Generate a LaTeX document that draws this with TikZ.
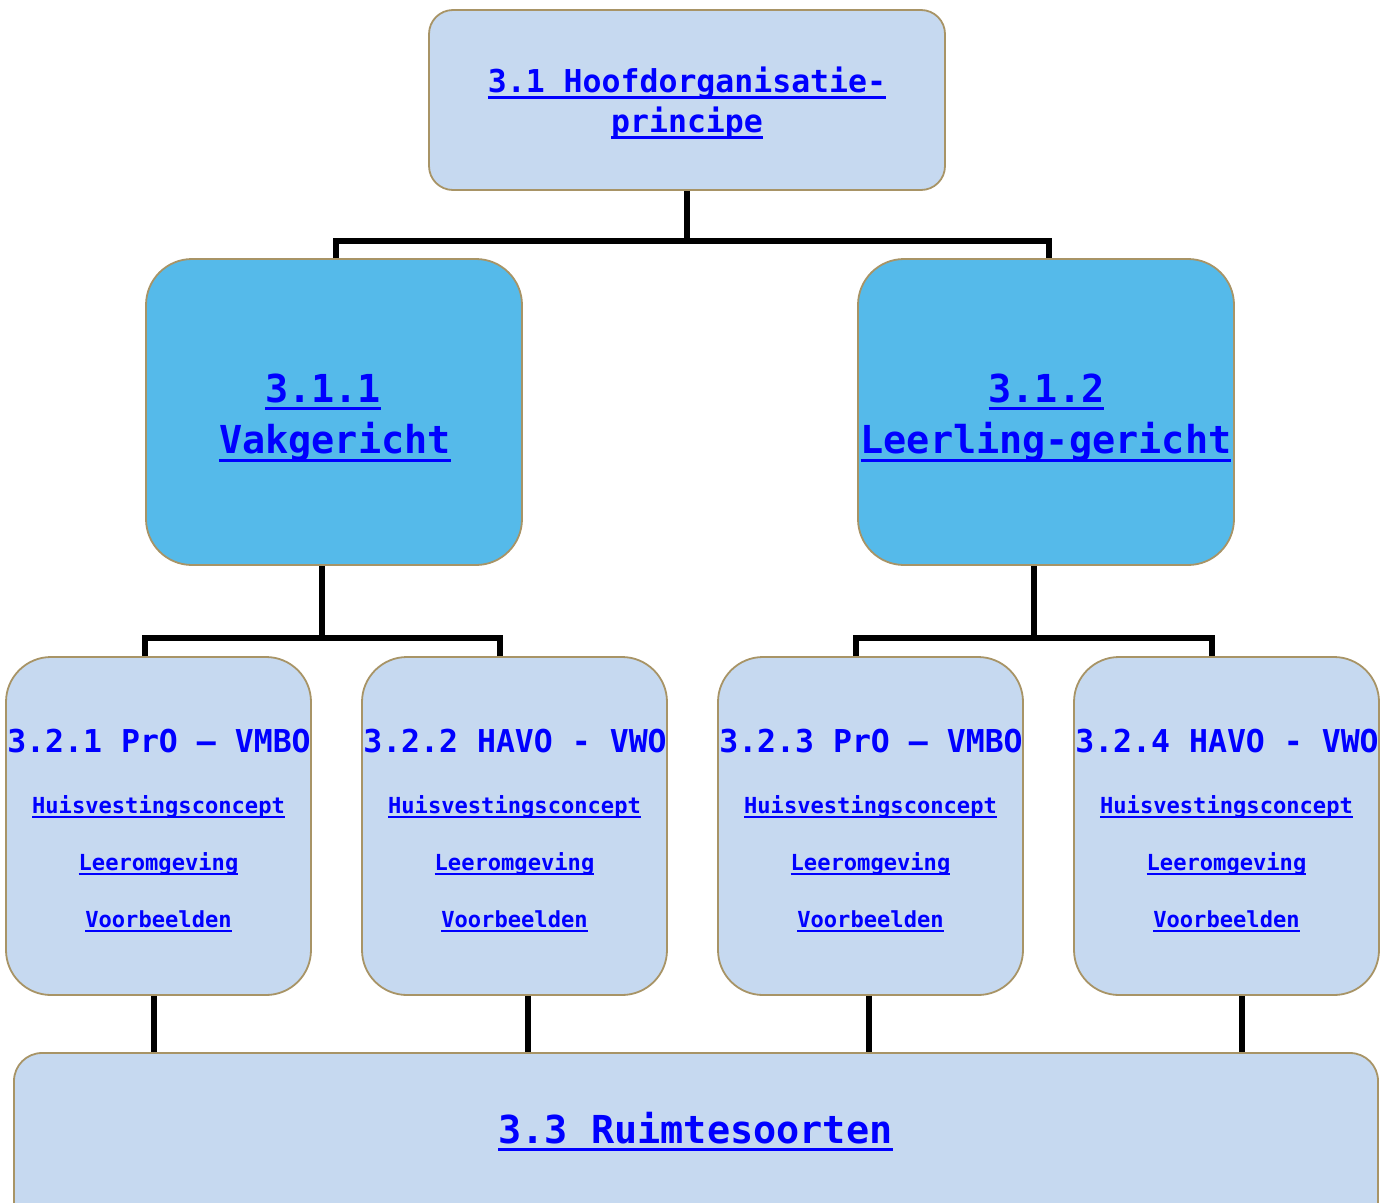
\documentclass[tikz,border=0pt]{standalone}
\usepackage{fontspec}
\setmainfont{DejaVu Sans Mono}
\definecolor{lightfill}{RGB}{198,217,240}
\definecolor{midfill}{RGB}{85,186,234}
\definecolor{edge}{RGB}{168,148,102}
\definecolor{linkblue}{RGB}{0,0,255}
\newcommand{\lnk}[3]{\setbox0\hbox{#3}\rlap{\rule[-#2]{\wd0}{#1}}\box0}
\newcommand{\fsA}{\fontsize{31.5}{36}\selectfont\bfseries}
\newcommand{\fsB}{\fontsize{38.5}{44}\selectfont\bfseries}
\newcommand{\fsC}{\fontsize{22.1}{26}\selectfont\bfseries}
\tikzset{
  box/.style={draw=edge, line width=1.8pt, inner sep=0pt},
  lbox/.style={box, fill=lightfill},
  mbox/.style={box, fill=midfill},
  txt/.style={anchor=base, inner sep=0pt, text=linkblue},
  conn/.style={line width=5.5pt, black}
}
\begin{document}
\begin{tikzpicture}[x=1pt,y=-1pt]
\useasboundingbox (0,0) rectangle (1381,1202);
\clip (0,0) rectangle (1381,1202);
% boxes
\node[lbox, rounded corners=24pt, minimum width=516pt, minimum height=180pt] (top) at (687,100) {};
\node[mbox, rounded corners=46pt, minimum width=376pt, minimum height=306pt] (L) at (334,412) {};
\node[mbox, rounded corners=46pt, minimum width=376pt, minimum height=306pt] (R) at (1046,412) {};
\node[lbox, rounded corners=45pt, minimum width=305pt, minimum height=338pt] (b1) at (158.5,826) {};
\node[lbox, rounded corners=45pt, minimum width=305pt, minimum height=338pt] (b2) at (514.5,826) {};
\node[lbox, rounded corners=45pt, minimum width=305pt, minimum height=338pt] (b3) at (870.5,826) {};
\node[lbox, rounded corners=45pt, minimum width=305pt, minimum height=338pt] (b4) at (1226.5,826) {};
\node[lbox, rounded corners=28pt, minimum width=1364pt, minimum height=200pt] (B) at (696,1153) {};
% connectors
\draw[conn] (top.south) -- ++(0,50) coordinate (j0);
\draw[conn] ([xshift=2pt]L.north) |- (j0);
\draw[conn] ([xshift=3pt]R.north) |- (j0);
\draw[conn] ([xshift=-12pt]L.south) -- ++(0,72) coordinate (j1);
\draw[conn] ([xshift=-13.5pt]b1.north) |- (j1);
\draw[conn] ([xshift=-14.5pt]b2.north) |- (j1);
\draw[conn] ([xshift=-12pt]R.south) -- ++(0,72) coordinate (j2);
\draw[conn] ([xshift=-14.5pt]b3.north) |- (j2);
\draw[conn] ([xshift=-14.5pt]b4.north) |- (j2);
\draw[conn] ([xshift=-4.5pt]b1.south) -- ([xshift=-4.5pt]b1.south |- B.north);
\draw[conn] ([xshift=13.5pt]b2.south) -- ([xshift=13.5pt]b2.south |- B.north);
\draw[conn] ([xshift=-1.5pt]b3.south) -- ([xshift=-1.5pt]b3.south |- B.north);
\draw[conn] ([xshift=15.5pt]b4.south) -- ([xshift=15.5pt]b4.south |- B.north);
% texts
\node[txt] (t0a) at (687,92) {\fsA\lnk{3pt}{7pt}{3.1 Hoofdorganisatie-}};
\node[txt] (t0b) at (687,132) {\fsA\lnk{3pt}{7pt}{principe}};
\node[txt] (tLa) at (323,402) {\fsB\lnk{3.5pt}{8pt}{3.1.1}};
\node[txt] (tLb) at (335,453) {\fsB\lnk{3.5pt}{9pt}{Vakgericht}};
\node[txt] (tRa) at (1046.5,402) {\fsB\lnk{3.5pt}{8pt}{3.1.2}};
\node[txt] (tRb) at (1046,453) {\fsB\lnk{3.5pt}{9pt}{Leerling-gericht}};
\foreach \n/\c/\t in {1/159/{3.2.1 PrO – VMBO},2/515/{3.2.2 HAVO - VWO},3/871/{3.2.3 PrO – VMBO},4/1227/{3.2.4 HAVO - VWO}}{
  \node[txt] (h\n) at (\c,752) {\fsA\t};
  \node[txt] (ha\n) at (\c-0.5,813) {\fsC\lnk{2pt}{5pt}{Huisvestingsconcept}};
  \node[txt] (hb\n) at (\c-0.5,870) {\fsC\lnk{2pt}{5pt}{Leeromgeving}};
  \node[txt] (hc\n) at (\c-0.5,927) {\fsC\lnk{2pt}{5pt}{Voorbeelden}};
}
\node[txt] (tB) at (695.5,1143) {\fsB\lnk{3.5pt}{8pt}{3.3 Ruimtesoorten}};
\end{tikzpicture}
\end{document}
